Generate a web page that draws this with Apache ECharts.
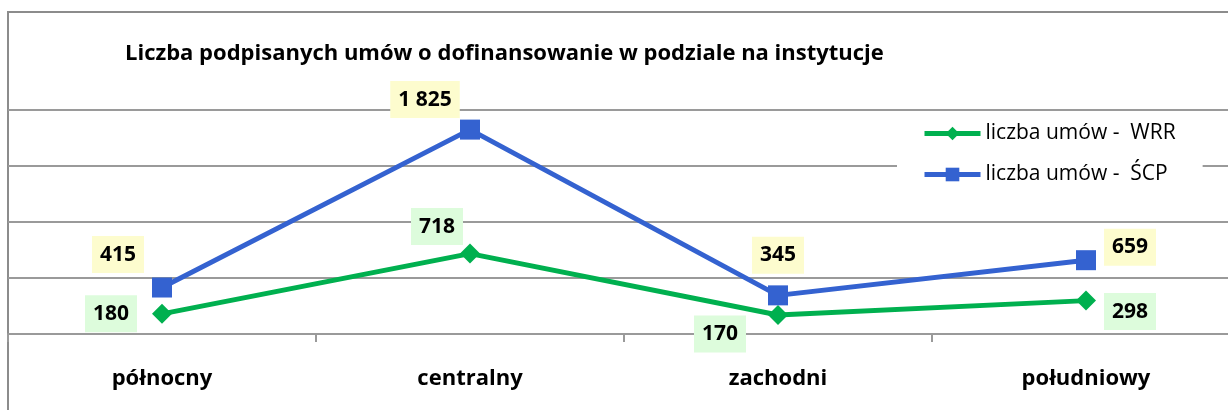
<!DOCTYPE html>
<html>
<head>
<meta charset="utf-8">
<script src="https://cdn.jsdelivr.net/npm/echarts@6/dist/echarts.min.js"></script>
<style>
  html, body { margin: 0; padding: 0; overflow: hidden; background: #fff; }
  #chart { width: 1240px; height: 410px; }
</style>
</head>
<body>
<div id="chart"></div>
<script>
// dane
const categories = ['północny', 'centralny', 'zachodni', 'południowy'];
const wrrValues = [180, 718, 170, 298];
const scpValues = [415, 1825, 345, 659];
const wrrName = 'liczba umów -  WRR';
const scpName = 'liczba umów -  ŚCP';

// przesunięcia etykiet względem punktów
const wrrOffsets = [[-51, 0], [-33, -27], [-58, 19], [44, 11]];
const scpOffsets = [[-44, -33], [-45, -30], [0, -40], [44, -13]];

const FONT = 'Open Sans';
const fmt = (v) => String(v).replace(/\B(?=(\d{3})+(?!\d))/g, ' ');

function labelled(values, offsets, bg) {
  return values.map((v, i) => ({
    value: v,
    label: { offset: offsets[i], backgroundColor: bg }
  }));
}

const chart = echarts.init(document.getElementById('chart'));
const labelBase = {
  show: true,
  position: 'inside',
  align: 'center',
  verticalAlign: 'middle',
  color: '#000',
  fontFamily: FONT,
  fontWeight: 'bold',
  fontSize: 21,
  lineHeight: 23,
  padding: [7, 8],
  formatter: (p) => fmt(p.value)
};

chart.setOption({
  animation: false,
  title: {
    text: 'Liczba podpisanych umów o dofinansowanie w podziale na instytucje',
    left: 125,
    top: 43,
    padding: 0,
    textStyle: { fontFamily: FONT, fontWeight: 'bold', fontSize: 22, color: '#000' }
  },
  legend: {
    orient: 'vertical',
    left: 897,
    top: 113,
    padding: [10, 27, 10, 25],
    backgroundColor: '#fff',
    itemWidth: 56,
    itemHeight: 17,
    itemGap: 20,
    data: [wrrName, scpName],
    lineStyle: { width: 5 },
    textStyle: { fontFamily: FONT, fontSize: 21, color: '#000' }
  },
  graphic: [{
    type: 'rect',
    z: -1,
    shape: { x: 8, y: 12, width: 1300, height: 500 },
    style: { fill: 'none', stroke: '#8c8c8c', lineWidth: 2 }
  }],
  grid: { left: 8, right: 0, top: 110, bottom: 76 },
  xAxis: {
    type: 'category',
    data: categories,
    boundaryGap: true,
    axisLine: { lineStyle: { color: '#9a9a9a', width: 2 } },
    axisTick: { show: true, length: 8, lineStyle: { color: '#9a9a9a', width: 2 } },
    axisLabel: {
      margin: 34,
      color: '#000',
      fontFamily: FONT,
      fontWeight: 'bold',
      fontSize: 22
    }
  },
  yAxis: {
    type: 'value',
    min: 0,
    max: 2000,
    interval: 500,
    axisLine: { show: false },
    axisTick: { show: false },
    axisLabel: { show: false },
    splitLine: { lineStyle: { color: '#9a9a9a', width: 2 } }
  },
  series: [
    {
      name: wrrName,
      type: 'line',
      data: labelled(wrrValues, wrrOffsets, '#ddfcdc'),
      symbol: 'diamond',
      symbolSize: 20,
      color: '#00b04f',
      lineStyle: { width: 5, color: '#00b04f' },
      itemStyle: { color: '#00b04f' },
      label: labelBase,
      z: 3
    },
    {
      name: scpName,
      type: 'line',
      data: labelled(scpValues, scpOffsets, '#fdfcce'),
      symbol: 'rect',
      symbolSize: 20,
      color: '#3462d0',
      lineStyle: { width: 5, color: '#3462d0' },
      itemStyle: { color: '#3462d0' },
      label: labelBase,
      z: 4
    }
  ]
});
</script>
</body>
</html>
